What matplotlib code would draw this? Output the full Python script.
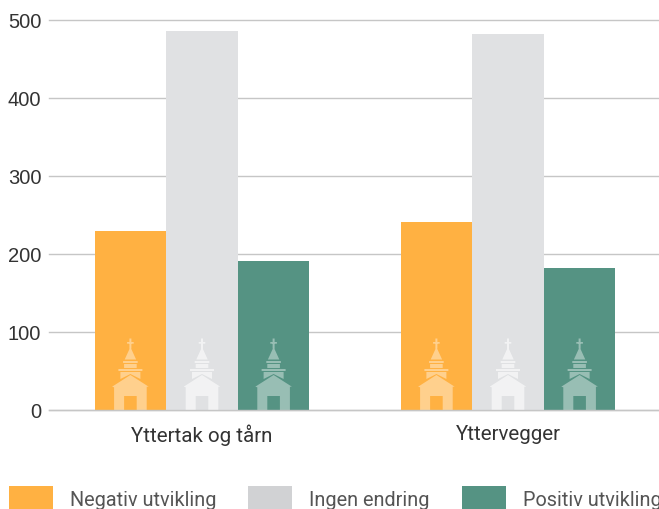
import matplotlib
matplotlib.use('Agg')
import numpy as np
import matplotlib.pyplot as plt
from matplotlib.patches import Patch, PathPatch
from matplotlib.path import Path
from matplotlib.transforms import ScaledTranslation, Affine2D

# Data
kategorier = ['Yttertak og tårn', 'Yttervegger']
negativ = [229, 241]
ingen = [486, 482]
positiv = [191, 182]
y_ticks = [0, 100, 200, 300, 400, 500]
serier = ['Negativ utvikling', 'Ingen endring', 'Positiv utvikling']
farger = ['#ffb142', '#e0e1e3', '#559383']
legend_farger = ['#ffb142', '#d1d2d4', '#559383']
ikon_alpha = [0.4, 0.6, 0.4]

smal = ['Roboto']
plt.rcParams['font.family'] = ['Liberation Sans', 'DejaVu Sans']


# Kirke-ikon, i piksler relativt til midten av stolpen og grunnlinjen
def kirke_path():
    deler = [
        [(-1, 71.5), (1, 71.5), (1, 61.5), (-1, 61.5)],
        [(-3.3, 68), (3.3, 68), (3.3, 66.3), (-3.3, 66.3)],
        [(0, 63), (5.7, 50.5), (-5.7, 50.5)],
        [(-7.3, 49), (7.3, 49), (7.3, 47), (-7.3, 47)],
        [(-6.3, 46), (6.3, 46), (6.3, 42), (-6.3, 42)],
        [(-12, 41), (12, 41), (12, 39), (-12, 39)],
        [(-10, 38), (10, 38), (10, 31), (0, 36), (-10, 31)],
        [(0, 35), (18.3, 23.3), (16.3, 23.3), (16.3, 0), (6.3, 0), (6.3, 14),
         (-6.3, 14), (-6.3, 0), (-16.3, 0), (-16.3, 22.7), (-18.3, 23.3)],
    ]
    verts, codes = [], []
    for d in deler:
        verts += d + [d[0]]
        codes += [Path.MOVETO] + [Path.LINETO] * (len(d) - 1) + [Path.CLOSEPOLY]
    return Path(verts, codes)


fig = plt.figure(figsize=(6.59, 5.09), dpi=100)
ax = fig.add_axes([49 / 659, (509 - 410) / 509, 612 / 659, 390 / 509])

x = np.arange(len(kategorier))
bredde = 0.234
verdier = [negativ, ingen, positiv]
ikon = kirke_path()
for i, v in enumerate(verdier):
    pos = x + (i - 1) * bredde
    ax.bar(pos, v, bredde, color=farger[i], zorder=2)
    for p in pos:
        # ikonet plasseres fra data-x og grunnlinjen, størrelsen er i piksler
        tr = Affine2D().scale(fig.dpi / 100) + ScaledTranslation(
            p, 0, ax.transData)
        ax.add_patch(PathPatch(ikon, transform=tr, facecolor='white',
                               edgecolor='none', alpha=ikon_alpha[i], zorder=3,
                               clip_on=False))

ax.set_xlim(-0.5, 1.5)
ax.set_ylim(0, 500)
ax.set_yticks(y_ticks)
ax.set_xticks(x)
ax.set_xticklabels(kategorier, family=smal, fontsize=14.8, color='#333333')
ax.tick_params(axis='y', length=0, pad=5.5, labelsize=14.5, labelcolor='#333333')
ax.tick_params(axis='x', length=0, pad=10.5)
ax.grid(axis='y', color='#c6c6c6', lw=1.0, zorder=1, clip_on=False)
ax.set_axisbelow(True)
for s in ['top', 'right', 'left']:
    ax.spines[s].set_visible(False)
ax.spines['bottom'].set_color('#c6c6c6')
ax.spines['bottom'].set_linewidth(1.0)
ax.spines['bottom'].set_zorder(4)

handles = [Patch(facecolor=c, edgecolor='none') for c in legend_farger]
fs = 14.3
fig.legend(handles, serier, ncol=3, loc='lower left', frameon=False,
           bbox_to_anchor=(9 / 659, -3 / 509), borderaxespad=0, borderpad=0,
           prop={'family': smal, 'size': fs}, labelcolor='#555555',
           handlelength=31.7 / fs, handleheight=1.63,
           handletextpad=12.2 / fs, columnspacing=23 / fs)

fig.savefig('out.png', dpi=100)
